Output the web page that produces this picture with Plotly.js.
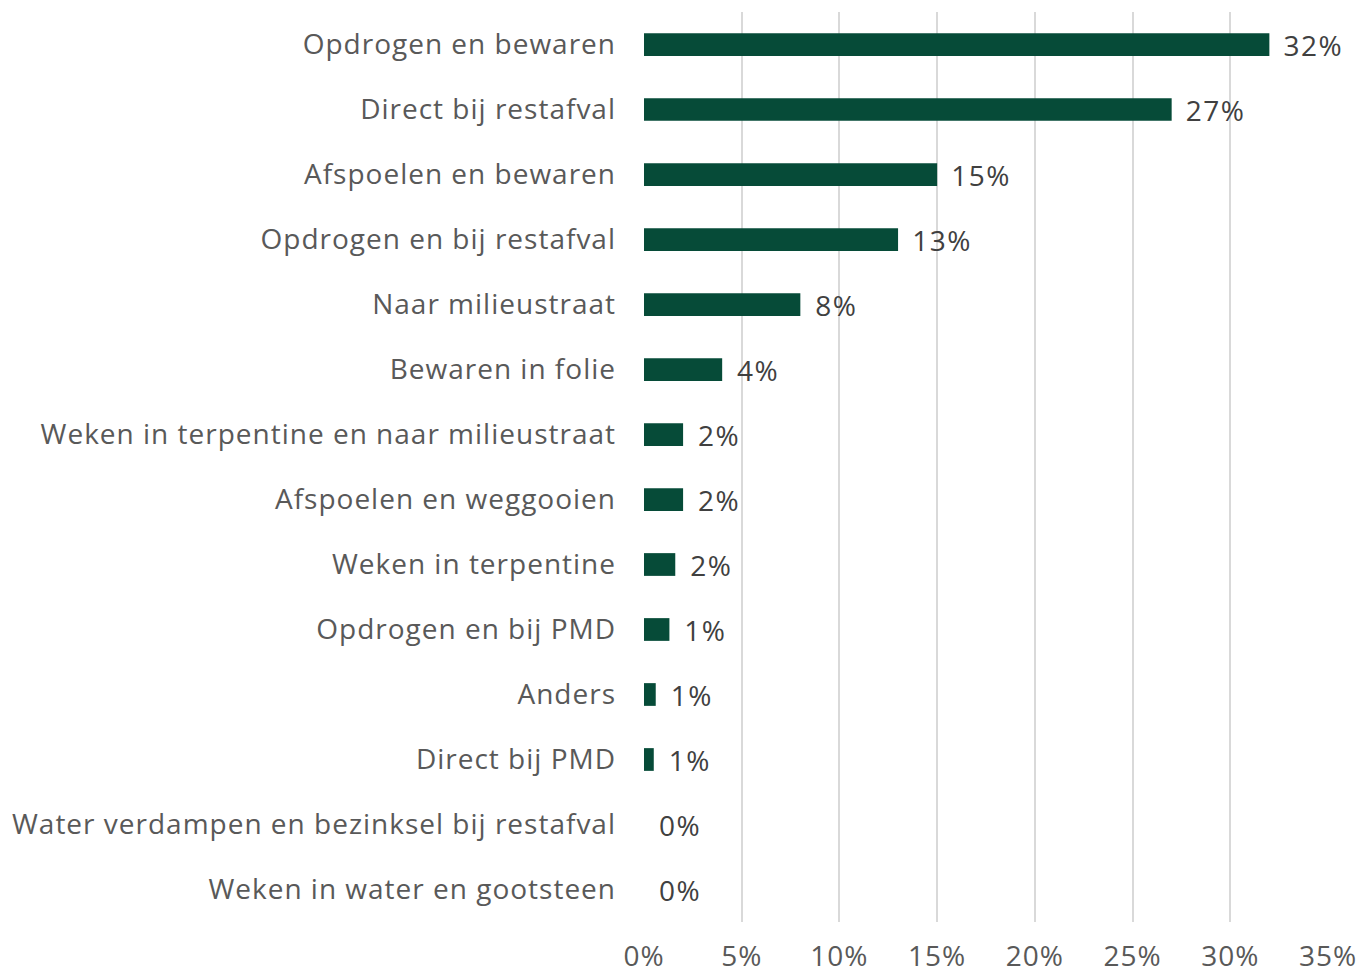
<!DOCTYPE html>
<html><head><meta charset="utf-8">
<script src="https://cdn.plot.ly/plotly-3.0.1.min.js"></script>
<style>html,body{margin:0;padding:0;background:#fff}#chart{width:1363px;height:975px}
#chart text{letter-spacing:1px}
#chart .bartext{letter-spacing:1.5px}</style>
</head><body><div id="chart"></div>
<script>
const categories = [
  "Opdrogen en bewaren",
  "Direct bij restafval",
  "Afspoelen en bewaren",
  "Opdrogen en bij restafval",
  "Naar milieustraat",
  "Bewaren in folie",
  "Weken in terpentine en naar milieustraat",
  "Afspoelen en weggooien",
  "Weken in terpentine",
  "Opdrogen en bij PMD",
  "Anders",
  "Direct bij PMD",
  "Water verdampen en bezinksel bij restafval",
  "Weken in water en gootsteen"
];
const values = [0.32, 0.27, 0.15, 0.13, 0.08, 0.04, 0.02, 0.02, 0.016, 0.013, 0.006, 0.005, 0, 0];
const labels = ["32%","27%","15%","13%","8%","4%","2%","2%","2%","1%","1%","1%","0%","0%"];
const xTicks = [0, 0.05, 0.10, 0.15, 0.20, 0.25, 0.30, 0.35];

const font = "'Open Sans', sans-serif";
Plotly.newPlot("chart", [{
  type: "bar",
  orientation: "h",
  y: categories,
  x: values,
  width: 0.35,
  text: labels.map(t => " \u2009" + t),
  textposition: "outside",
  constraintext: "none",
  cliponaxis: false,
  textfont: {family: font, size: 28, color: "#404040"},
  marker: {color: "#064b38"},
  hoverinfo: "none"
}], {
  width: 1363, height: 975,
  margin: {l: 644, r: 35, t: 12, b: 53},
  paper_bgcolor: "#fff", plot_bgcolor: "#fff",
  showlegend: false,
  font: {family: font, size: 28, color: "#595959"},
  xaxis: {
    range: [0, 0.35],
    tickvals: xTicks,
    tickformat: ".0%",
    showgrid: true, gridcolor: "#d9d9d9", gridwidth: 2,
    zeroline: false, showline: false,
    ticks: "", ticklabelstandoff: 15,
    tickfont: {family: font, size: 28, color: "#595959"},
    fixedrange: true
  },
  yaxis: {
    autorange: "reversed",
    showgrid: false, zeroline: false, showline: false,
    ticks: "", ticklabelstandoff: 27,
    tickfont: {family: font, size: 28, color: "#595959"},
    fixedrange: true
  },
  bargap: 0.65
}, {displayModeBar: false, staticPlot: true});
</script></body></html>
